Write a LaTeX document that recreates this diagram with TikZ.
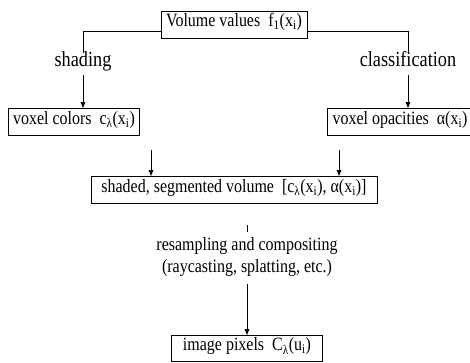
\documentclass[tikz,border=0pt]{standalone}
\usepackage{fontspec}
\setmainfont{Liberation Serif}[FakeStretch=0.85]
\usetikzlibrary{arrows.meta,positioning}

\tikzset{
  box/.style={draw, inner xsep=5pt, inner ysep=0pt, minimum height=27pt, text height=0.7em, text depth=0.25em, font=\fontsize{18.8}{21}\selectfont},
  lbl/.style={inner xsep=2pt, inner ysep=6pt, text height=0.7em, text depth=0.22em, font=\fontsize{21.5}{24}\selectfont},
}

\begin{document}
\begin{tikzpicture}[>={Triangle[length=6pt,width=4.5pt]}, line width=0.9pt, on grid]
			\useasboundingbox (-234pt,24.5pt) rectangle (236pt,-337.5pt);
			\node[box, minimum width=146pt] (vol) {Volume values\ \ f\textsubscript{1}(x\textsubscript{i})};
			\node[lbl] (shading) [below left=39.5pt and 151pt of vol] {shading};
			\node[lbl] (classif) [below right=39.5pt and 174pt of vol] {classification};
			\node[box, minimum width=128pt] (colors) [below left=97.5pt and 160pt of vol] {voxel colors\ \ c\textsubscript{λ}(x\textsubscript{i})};
			\node[box, minimum width=138pt] (opac) [below right=97.5pt and 166pt of vol] {voxel opacities\ \ α(x\textsubscript{i})};
			\node[box, minimum width=286pt] (shaded) [below=165.5pt of vol] {shaded, segmented volume\ \ [c\textsubscript{λ}(x\textsubscript{i}), α(x\textsubscript{i})]};
			\node[align=center, inner sep=0pt, font=\fontsize{18.8}{21.5}\selectfont] (resamp) [below right=232.5pt and 13pt of vol] {resampling and compositing\\(raycasting, splatting, etc.)};
			\node[box, minimum width=151pt, minimum height=26pt] (image) [below right=324pt and 13pt of vol] {image pixels\ \ C\textsubscript{λ}(u\textsubscript{i})};
			\draw ([yshift=-6.5pt]vol.west) -| (shading.north);
			\draw ([yshift=-6.5pt]vol.east) -| (classif.north);
			\draw[->] (shading.south) -- (shading.south |- colors.north);
			\draw[->] (classif.south) -- (classif.south |- opac.north);
			\draw[->] ([xshift=-83pt,yshift=26pt]shaded.north) -- ([xshift=-83pt]shaded.north);
			\draw[->] ([xshift=105pt,yshift=26pt]shaded.north) -- ([xshift=105pt]shaded.north);
			\draw ([yshift=5pt]resamp.north) -- ([yshift=12pt]resamp.north);
			\draw[->] ([yshift=-7pt]resamp.south) -- (image.north);
		\end{tikzpicture}
\end{document}
